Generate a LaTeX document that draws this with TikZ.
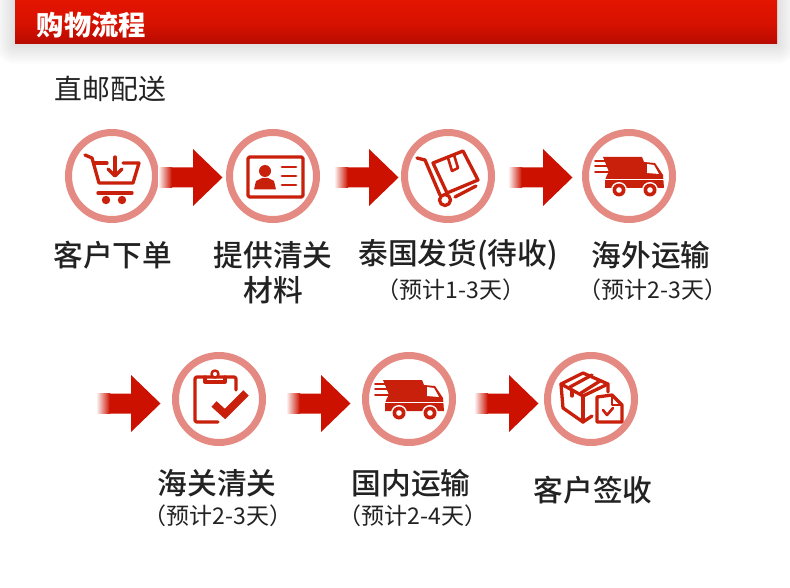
\documentclass[tikz,border=0pt]{standalone}
\usepackage{fontspec}
\setmainfont{Noto Sans CJK SC}
\newfontfamily\medcjk{Noto Sans CJK SC Medium}
\usetikzlibrary{shadings}
\definecolor{ringc}{HTML}{E58A82}
\definecolor{iconc}{HTML}{C9200C}
\definecolor{arrowc}{HTML}{CC1100}
\definecolor{headtop}{HTML}{E21500}
\definecolor{headmid}{HTML}{D81200}
\definecolor{headbot}{HTML}{B80A00}
\definecolor{inkc}{HTML}{222222}
\tikzset{
  ring/.style={circle,draw=ringc,line width=7pt,minimum size=87pt,inner sep=0pt,fill=white},
  ico/.style={draw=iconc,line width=3.3pt,line join=round,line cap=round},
  icofill/.style={fill=iconc,draw=none},
  lab/.style={font=\fontsize{29.7pt}{34pt}\medcjk,text=inkc,inner sep=0pt,anchor=center},
  sublab/.style={font=\fontsize{23pt}{26pt}\selectfont,text=inkc,inner sep=0pt,anchor=center},
}
\newcommand{\blockarrow}[2]{% tail x, centre y
  \shade[left color=white,right color=arrowc,shading=axis,draw=none] (#1,#2-10) rectangle (#1+14,#2+10);
  \fill[arrowc] (#1+13.5,#2-10) -- (#1+35,#2-10) -- (#1+35,#2-28.5) -- (#1+64.5,#2) -- (#1+35,#2+28.5) -- (#1+35,#2+10) -- (#1+13.5,#2+10) -- cycle;
}
\newcommand{\truckicon}[2]{%
  \begin{scope}[shift={(#1,#2)}]
    \fill[iconc] (-26,-19) -- (13,-19) -- (15,-14) -- (26,-13) -- (34,-1) -- (35,12) -- (-24,12) -- (-24,4) -- (-22,-1) -- (-20,-4) -- cycle;
    \fill[white] (18,-12) -- (25,-11) -- (30,-2) -- (18,-3) -- cycle;
    \draw[white,line width=1.5pt] (-26,3.5) -- (36,3.5);
    \draw[ico,line width=2pt] (-34,-15) -- (-20,-15) (-34,-10) -- (-20,-10) (-34,-4) -- (-20,-4);
    \foreach \wx in {-10,21}{
      \fill[white] (\wx,14) circle (8);
      \fill[iconc] (\wx,14) circle (6.5);
      \fill[white] (\wx,14) circle (2.8);
    }
  \end{scope}
}
\begin{document}
\begin{tikzpicture}[x=1pt,y=-1pt]
\useasboundingbox (0,0) rectangle (790,588);
\fill[white] (0,0) rectangle (790,588);
% header shadow
\foreach \s in {20,18,...,2}{
  \fill[black,opacity=0.010,rounded corners=\s pt] (15-\s,-20) rectangle (777+\s,44+\s);
}
\shade[top color=headtop,bottom color=headbot,middle color=headmid] (15,0) rectangle (777,44);
\node[inner sep=0pt,text=white,font=\fontsize{27.3pt}{30pt}\selectfont\bfseries] (title) at (91.5,25.5) {购物流程};
\node[inner sep=0pt,text=inkc,font=\fontsize{27.8pt}{32pt}\selectfont] (sub) at (110.5,88.5) {直邮配送};
% rings
\node[ring] (n1) at (112,176) {};
\node[ring] (n2) at (273,176) {};
\node[ring] (n3) at (448,176) {};
\node[ring] (n4) at (629,176) {};
\node[ring] (n5) at (219,399) {};
\node[ring] (n6) at (409,399) {};
\node[ring] (n7) at (591,399) {};
% arrows
\blockarrow{158}{177.5}
\blockarrow{334}{177.5}
\blockarrow{508}{177.5}
\blockarrow{96}{403.5}
\blockarrow{286}{403.5}
\blockarrow{474}{403.5}
% cart
\draw[ico] (85,155) -- (92,158) -- (99,183) -- (133,183) -- (139,163) -- (123,163);
\draw[ico] (94,163) -- (107,163);
\draw[ico] (98,193) -- (132,193);
\draw[ico] (115,157) -- (115,175);
\draw[ico] (108,169) -- (115,176) -- (122,169);
\fill[iconc] (106,200) circle (4.2) (122,200) circle (4.2);
% id card
\draw[ico,rounded corners=1.5pt] (248,157) rectangle (303,197);
\fill[iconc] (265,171) circle (6);
\fill[iconc] (254,189.5) -- (256,181) -- (262,178) -- (268,178) -- (274,181) -- (276,189.5) -- cycle;
\draw[ico,line width=2.8pt] (282,167) -- (296,167) (282,176) -- (296,176) (282,185) -- (296,185);
% hand truck
\draw[ico] (417,158) -- (425,160) -- (440,195);
\draw[ico] (433,163) -- (463,151) -- (478,180) -- (447,193) -- cycle;
\draw[ico,line width=2.6pt] (448,158) -- (452,171) -- (458,168) -- (454,155);
\draw[ico] (455,197) -- (476,186);
\draw[ico] (445,200) circle (5.5);
% van
\truckicon{629}{176}
\truckicon{409}{399}
% clipboard
\draw[ico,rounded corners=2pt] (218,422) -- (195,422) -- (195,377) -- (236,377) -- (236,390);
\draw[ico] (205,377) -- (205,382) -- (225,382) -- (225,377);
\draw[ico,line width=2.4pt,fill=white] (215,374) circle (3.5);
\draw[iconc,line width=7.5pt,line join=miter] (214,404) -- (225,414) -- (246,393);
% box + document
\draw[ico] (608,392) -- (608,384) -- (583,373) -- (561,384) -- (563,408) -- (583,422) -- (592,416);
\draw[ico] (561,384) -- (583,396) -- (608,384);
\draw[ico] (583,396) -- (583,422);
\draw[ico] (570,387) -- (592,375) (581,393) -- (600,381);
\draw[ico] (572,390) -- (572,396);
\draw[ico,fill=white] (597,397) -- (612,395) -- (622,405) -- (622,422) -- (597,422) -- cycle;
\draw[ico,line width=2.2pt] (612,395) -- (612,405) -- (622,405);
\draw[ico,line width=2.6pt] (603,410) -- (607,415) -- (613,408);
% labels
\node[lab] (t1) at (113,255) {客户下单};
\node[lab] (t2a) at (273,255) {提供清关};
\node[lab] (t2b) at (273,290) {材料};
\node[lab] (t3a) at (458,255) {泰国发货(待收)};
\node[sublab] (t3b) at (451,290) {（预计1-3天）};
\node[lab] (t4a) at (651,255) {海外运输};
\node[sublab] (t4b) at (653,290) {（预计2-3天）};
\node[lab] (t5a) at (217,483) {海关清关};
\node[sublab] (t5b) at (218,516) {（预计2-3天）};
\node[lab] (t6a) at (411,483) {国内运输};
\node[sublab] (t6b) at (413,516) {（预计2-4天）};
\node[lab] (t7) at (593,490) {客户签收};
\end{tikzpicture}
\end{document}
